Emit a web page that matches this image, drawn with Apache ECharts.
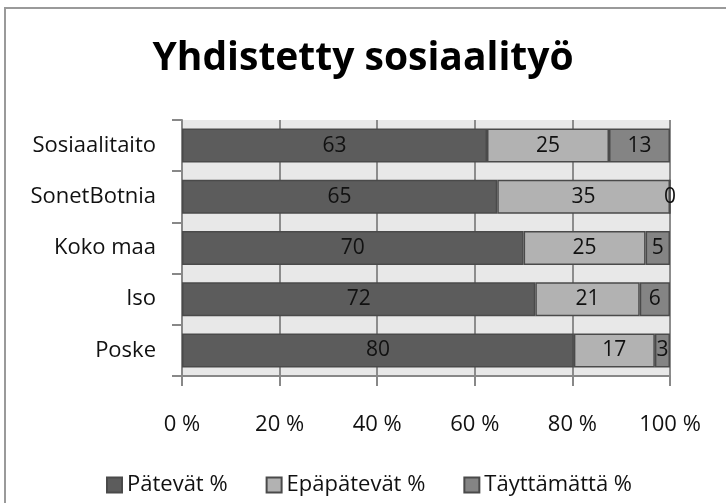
<!DOCTYPE html>
<html>
<head>
<meta charset="utf-8">
<script src="https://cdn.jsdelivr.net/npm/echarts@6/dist/echarts.min.js"></script>
<style>
  html, body { margin: 0; padding: 0; background: #fff; }
  #chart { width: 726px; height: 503px; }
</style>
</head>
<body>
<div id="chart"></div>
<script>
// categories, bottom to top (as the y axis draws them)
const categories = ['Poske', 'Iso', 'Koko maa', 'SonetBotnia', 'Sosiaalitaito']
const patevat = [80.3, 72.4, 70, 64.6, 62.5]
const epapatevat = [16.6, 21.4, 25, 35.4, 25]
const tayttamatta = [3.1, 6.2, 5, 0, 12.5]
const xTicks = [0, 20, 40, 60, 80, 100]

const font = 'Open Sans'
const chart = echarts.init(document.getElementById('chart'))

function makeSeries(name, data, color) {
  return {
    name: name,
    type: 'bar',
    stack: 'total',
    data: data,
    barWidth: 34,
    itemStyle: { color: color, borderColor: '#4a4a4a', borderWidth: 1.5 },
    label: {
      show: true,
      position: 'inside',
      color: '#111',
      fontFamily: font,
      fontSize: 21,
      formatter: p => Math.round(p.value)
    }
  }
}

chart.setOption({
  backgroundColor: '#fff',
  animation: false,
  graphic: [{
    type: 'rect',
    shape: { x: 5, y: 8, width: 800, height: 600 },
    style: { fill: 'none', stroke: '#9a9a9a', lineWidth: 2 },
    silent: true
  }],
  title: {
    text: 'Yhdistetty sosiaalityö',
    left: 'center',
    top: 34,
    textStyle: { fontFamily: font, fontWeight: 'bold', fontSize: 39, color: '#000' }
  },
  legend: {
    bottom: 2,
    left: 101,
    itemWidth: 15,
    itemHeight: 15,
    itemGap: 38,
    icon: 'rect',
    textStyle: { fontFamily: font, fontSize: 22, color: '#111' },
    data: ['Pätevät %', 'Epäpätevät %', 'Täyttämättä %']
  },
  grid: { left: 182, right: 56, top: 120, bottom: 127, containLabel: false,
    show: true, backgroundColor: '#e8e8e8', borderWidth: 0 },
  xAxis: {
    type: 'value',
    min: xTicks[0],
    max: xTicks[xTicks.length - 1],
    interval: 20,
    axisLine: { show: true, lineStyle: { color: '#888', width: 2 } },
    axisTick: { show: true, length: 10, lineStyle: { color: '#888', width: 2 } },
    splitLine: { show: true, lineStyle: { color: '#8c8c8c', width: 2 } },
    axisLabel: { fontFamily: font, fontSize: 22, color: '#111', margin: 38,
      formatter: v => v + ' %' }
  },
  yAxis: {
    type: 'category',
    data: categories,
    axisLine: { show: true, lineStyle: { color: '#888', width: 2 } },
    axisTick: { show: true, length: 10, lineStyle: { color: '#888', width: 2 } },
    axisLabel: { fontFamily: font, fontSize: 22, color: '#111', margin: 26 }
  },
  series: [
    makeSeries('Pätevät %', patevat, '#5c5c5c'),
    makeSeries('Epäpätevät %', epapatevat, '#b2b2b2'),
    makeSeries('Täyttämättä %', tayttamatta, '#848484')
  ]
})
</script>
</body>
</html>
